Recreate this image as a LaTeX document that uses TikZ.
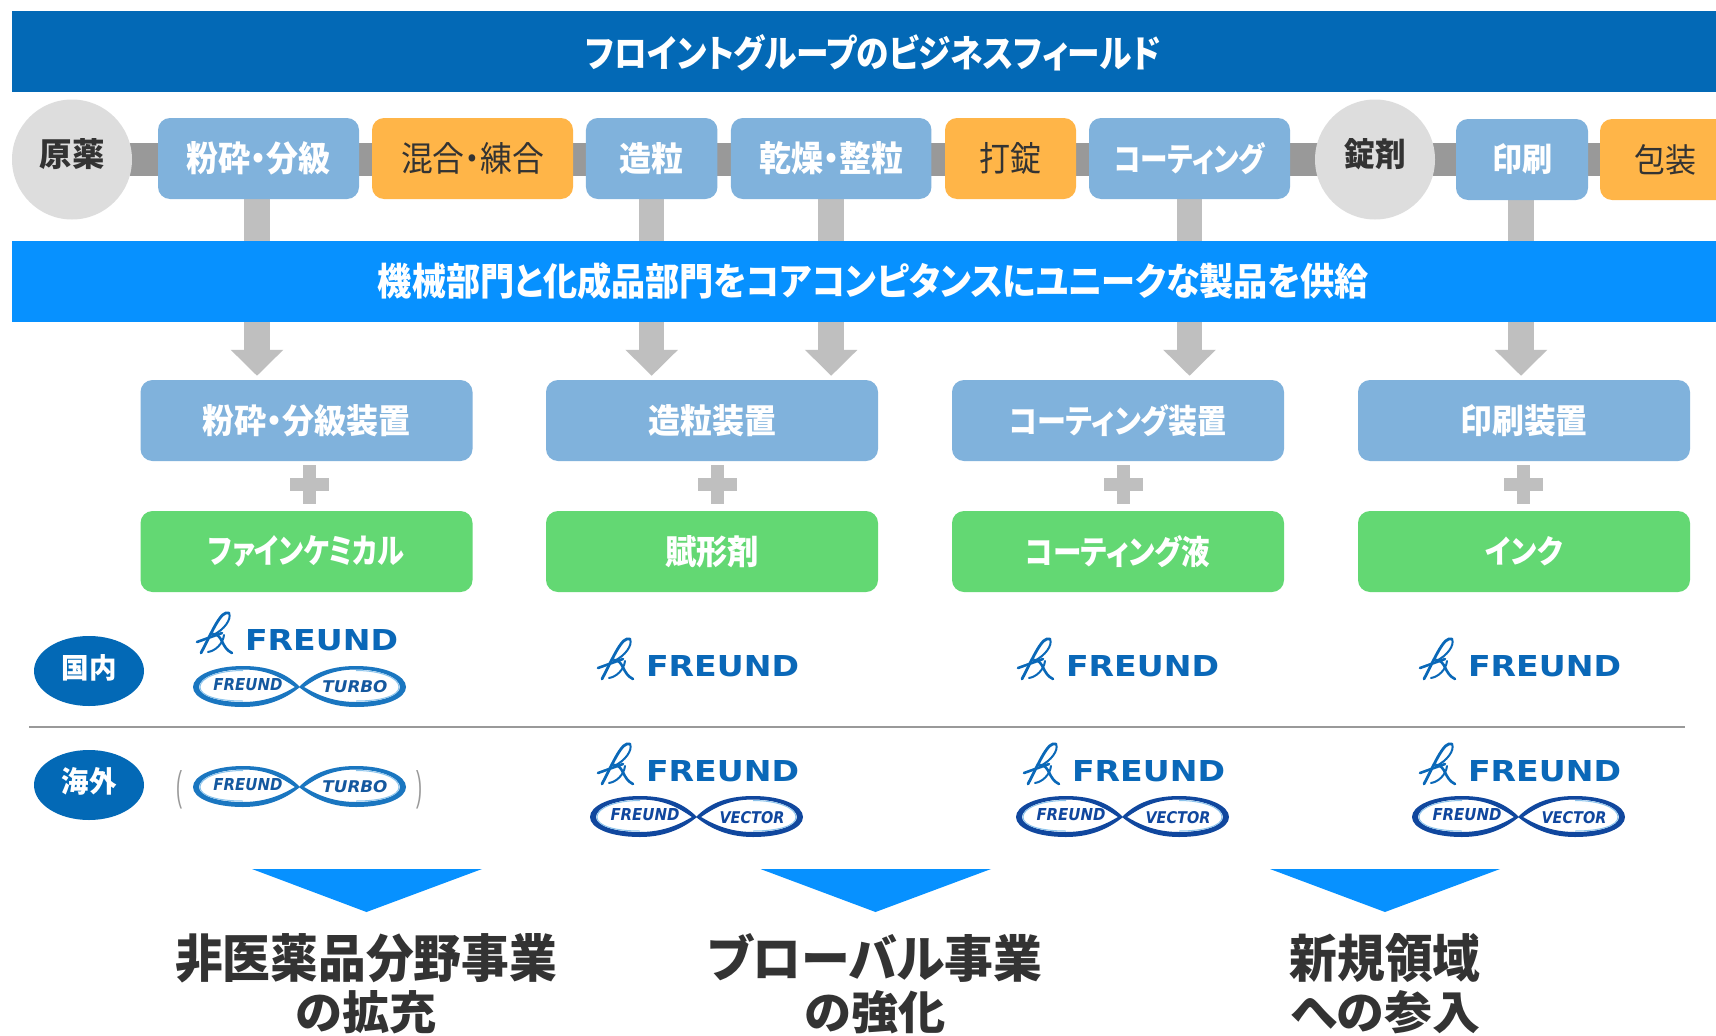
\documentclass[tikz,border=0pt]{standalone}
\usepackage{fontspec}
\usepackage{graphicx}
\setmainfont{Noto Sans CJK JP}[CharacterWidth=AlternateProportional]
\newfontfamily\logofont{DejaVu Sans}
\newfontfamily\parenfont{Liberation Sans}
\usetikzlibrary{arrows.meta,backgrounds,shapes.geometric}
\definecolor{hdblue}{HTML}{0369B6}
\definecolor{brblue}{HTML}{0791FF}
\definecolor{boxblue}{HTML}{80B2DC}
\definecolor{boxorange}{HTML}{FFB548}
\definecolor{boxgreen}{HTML}{63D873}
\definecolor{bandgray}{HTML}{999999}
\definecolor{stemgray}{HTML}{BFBFBF}
\definecolor{circgray}{HTML}{DDDDDD}
\definecolor{txtdark}{HTML}{333333}
\definecolor{logoblue}{HTML}{0A68B8}
\definecolor{turboblue}{HTML}{1A76C0}
\definecolor{turbotxt}{HTML}{14589F}
\definecolor{vecblue}{HTML}{10479E}
\definecolor{glow}{HTML}{8CC4EC}
% exact-size text
\newcommand{\fitb}[3]{\resizebox{#1pt}{#2pt}{\bfseries #3}}
\newcommand{\fitr}[3]{\resizebox{#1pt}{#2pt}{#3}}
\tikzset{
  band/.style={fill=#1,inner sep=0pt,text=white},
  stepbox/.style={fill=#1,rounded corners=12pt,inner sep=0pt},
  roundstep/.style={circle,fill=circgray,minimum size=120pt,inner sep=0pt,text=txtdark},
  tag/.style={ellipse,fill=hdblue,minimum width=110pt,minimum height=70pt,inner sep=0pt,text=white},
  txt/.style={inner sep=0pt,outer sep=0pt},
  flowband/.style={line width=33pt,draw=bandgray},
  stem/.style={line width=25.5pt,draw=stemgray},
  downarrow/.style={line width=25.5pt,draw=stemgray,-{Triangle[length=26pt,width=51pt]},shorten >=4pt},
  plusbar/.style={fill=stemgray},
  outcome/.style={fill=brblue},
}
% FREUND logo: #1 name, #2 x, #3 y (top-left of the mark)
\newcommand{\freundlogo}[3]{%
  \begin{scope}[shift={(#2,#3)},draw=logoblue,line cap=round]
    \draw[line width=2.8pt] (33,1) .. controls (25,-2) and (17,18) .. (5,41);
    \draw[line width=2pt] (33,1) .. controls (36,7) and (28,18) .. (17,23);
    \draw[line width=2.6pt] (1,30) -- (26,21);
    \draw[line width=2.6pt] (17,22) .. controls (27,22) and (25,36) .. (36,41);
    \draw[line width=2pt] (28,23) .. controls (27,32) and (19,39) .. (12,40);
    \node[txt,text=logoblue,anchor=west] (#1) at (49,28.5) {\resizebox{153pt}{21pt}{\logofont\bfseries FREUND}};
  \end{scope}}
% infinity logo: #1 name, #2 x, #3 y, #4 colour, #5 text colour, #6 right word, #7 y of right word
\newcommand{\looplogo}[7]{%
  \begin{scope}[shift={(#2,#3)}]
    \foreach \sx/\ox in {1/0,-1/213}{
      \begin{scope}[shift={(\ox,0)},xscale=\sx]
        \fill[#4,even odd rule]
          (107,21) .. controls (96,10) and (80,0) .. (50,0) .. controls (20,0) and (0,10) .. (0,21)
          .. controls (0,32) and (20,41) .. (50,41) .. controls (78,41) and (96,30) .. (107,21) -- cycle
          (102,21) .. controls (90,13) and (76,3.5) .. (50,3.5) .. controls (25,3.5) and (6,12) .. (6,21)
          .. controls (6,30) and (25,36) .. (50,36) .. controls (74,36) and (90,28) .. (102,21) -- cycle;
        \draw[glow,line width=1pt] (50,4.5) .. controls (25,4.5) and (7,12) .. (7,21) .. controls (7,30) and (25,35) .. (50,35);
      \end{scope}
    }
    \node[txt,text=#5] (#1l) at (55,19) {\resizebox{69pt}{12pt}{\logofont\bfseries\itshape FREUND}};
    \node[txt,text=#5] (#1r) at (162,#7) {\resizebox{65pt}{12pt}{\logofont\bfseries\itshape #6}};
  \end{scope}}
\begin{document}
\begin{tikzpicture}[x=1pt,y=-1pt]
\useasboundingbox (0,0) rectangle (1716,1036);
\clip (0,0) rectangle (1716,1036);
% bars
\node[band=hdblue,minimum width=1704pt,minimum height=81pt,anchor=north west] (title) at (12,11) {};
\node[txt,text=white] (titletxt) at (873,53) {\fitb{575}{33}{フロイントグループのビジネスフィールド}};
\node[band=brblue,minimum width=1704pt,minimum height=81pt,anchor=north west] (core) at (12,241) {};
\node[txt,text=white] (coretxt) at (873.5,281.5) {\fitb{991}{33}{機械部門と化成品部門をコアコンピタンスにユニークな製品を供給}};
% process row
\node[roundstep] (raw) at (72,159.5) {};
\node[txt,text=txtdark] at (72,154.5) {\fitb{65}{28}{原薬}};
\node[stepbox=boxblue,minimum width=201pt,minimum height=81pt,text=white] (mill) at (258.5,158.5) {\fitb{144}{30}{粉砕・分級}};
\node[stepbox=boxorange,minimum width=201pt,minimum height=81pt,text=txtdark] (mix) at (472.5,158.5) {\fitr{143}{29}{混合・練合}};
\node[stepbox=boxblue,minimum width=131.5pt,minimum height=81pt,text=white] (gran) at (651.7,158.5) {\fitb{64}{29}{造粒}};
\node[stepbox=boxblue,minimum width=200.5pt,minimum height=81pt,text=white] (dry) at (831.2,158.5) {\fitb{144}{30}{乾燥・整粒}};
\node[stepbox=boxorange,minimum width=131pt,minimum height=81pt,text=txtdark] (press) at (1010.5,158.5) {\fitr{62}{29}{打錠}};
\node[stepbox=boxblue,minimum width=201pt,minimum height=81pt,text=white] (coat) at (1189.5,158.5) {\fitb{151}{29}{コーティング}};
\node[roundstep] (tablet) at (1375,159.5) {};
\node[txt,text=txtdark] at (1375,154) {\fitb{61}{28}{錠剤}};
\node[stepbox=boxblue,minimum width=132pt,minimum height=81pt,text=white] (print) at (1522,159.5) {\fitb{60}{28}{印刷}};
\node[stepbox=boxorange,minimum width=130pt,minimum height=81pt,text=txtdark] (pack) at (1665,159.5) {\fitr{62}{28}{包装}};
% equipment
\node[stepbox=boxblue,minimum width=332pt,minimum height=81pt,text=white] (eqa) at (306.5,420.5) {\fitb{208}{29}{粉砕・分級装置}};
\node[stepbox=boxblue,minimum width=332pt,minimum height=81pt,text=white] (eqb) at (712,420.5) {\fitb{128}{29}{造粒装置}};
\node[stepbox=boxblue,minimum width=332pt,minimum height=81pt,text=white] (eqc) at (1118,420.5) {\fitb{217}{29}{コーティング装置}};
\node[stepbox=boxblue,minimum width=332pt,minimum height=81pt,text=white] (eqd) at (1524,420.5) {\fitb{127}{29}{印刷装置}};
% materials
\node[stepbox=boxgreen,minimum width=332pt,minimum height=81pt,text=white] (maa) at (306.5,551.5) {\fitb{196}{28}{ファインケミカル}};
\node[stepbox=boxgreen,minimum width=332pt,minimum height=81pt,text=white] (mab) at (712,551.5) {\fitb{94}{29}{賦形剤}};
\node[stepbox=boxgreen,minimum width=332pt,minimum height=81pt,text=white] (mac) at (1118,551.5) {\fitb{185}{29}{コーティング液}};
\node[stepbox=boxgreen,minimum width=332pt,minimum height=81pt,text=white] (mad) at (1524,551.5) {\fitb{77}{27}{インク}};
% plus signs
\foreach \px in {309,717.5,1123,1523}{
  \fill[plusbar] (\px-19.5,478) rectangle (\px+19.5,490.5);
  \fill[plusbar] (\px-6.5,465) rectangle (\px+6.5,504);
}
% connectors
\begin{scope}[on background layer]
  \fill[white] (0,0) rectangle (1716,1036);
  \draw[flowband] (raw.center) -- (pack.center);
  \draw[stem] ([xshift=-1.5pt]mill.south) -- ([xshift=-1.5pt]mill.south |- core.north);
  \foreach \b in {gran,dry,coat}{
    \draw[stem] (\b.south) -- (\b.south |- core.north);
  }
  \draw[stem] ([xshift=-1pt]print.south) -- ([xshift=-1pt]print.south |- core.north);
\end{scope}
\draw[downarrow] ([xshift=-1.5pt]mill.south |- core.south) -- ([xshift=-1.5pt]mill.south |- eqa.north);
\draw[downarrow] (gran.south |- core.south) -- (gran.south |- eqb.north);
\draw[downarrow] (dry.south |- core.south) -- (dry.south |- eqb.north);
\draw[downarrow] (coat.south |- core.south) -- (coat.south |- eqc.north);
\draw[downarrow] ([xshift=-1pt]print.south |- core.south) -- ([xshift=-1pt]print.south |- eqd.north);
% domestic / overseas
\node[tag] (dom) at (89,671) {};
\node[txt,text=white] at (89,667.5) {\fitb{55}{24}{国内}};
\node[tag] (ovs) at (89,785) {};
\node[txt,text=white] at (89,781.7) {\fitb{55}{25}{海外}};
\coordinate (sepa) at (29,727);
\coordinate (sepb) at (1685,727);
\draw[bandgray,line width=1.5pt] (sepa) -- (sepb);
% logos
\freundlogo{fa}{196}{612}
\looplogo{ta}{193}{666}{turboblue}{turbotxt}{TURBO}{21}
\freundlogo{fb}{597}{638}
\freundlogo{fc}{1017}{638}
\freundlogo{fd}{1419}{638}
\looplogo{tb}{193}{766}{turboblue}{turbotxt}{TURBO}{21}
\node[txt,text=bandgray,anchor=center] (pl) at (179.5,789.5) {\resizebox{6pt}{30pt}{\parenfont (}};
\node[txt,text=bandgray,anchor=center] (pr) at (419,789.5) {\resizebox{6pt}{30pt}{\parenfont )}};
\freundlogo{fe}{597}{743}
\looplogo{va}{590}{796}{vecblue}{vecblue}{VECTOR}{22}
\freundlogo{ff}{1023}{743}
\looplogo{vb}{1016}{796}{vecblue}{vecblue}{VECTOR}{22}
\freundlogo{fg}{1419}{743}
\looplogo{vc}{1412}{796}{vecblue}{vecblue}{VECTOR}{22}
% outcomes
\fill[outcome] (252,869) -- (482,869) -- (366.5,912) -- cycle;
\fill[outcome] (760.5,869) -- (991,869) -- (875.5,912) -- cycle;
\fill[outcome] (1270,869) -- (1500,869) -- (1385,912) -- cycle;
\node[txt,text=txtdark] (oa) at (366,958) {\fitb{382}{44}{非医薬品分野事業}};
\node[txt,text=txtdark] (ob) at (366,1012.5) {\fitb{141}{39}{の拡充}};
\node[txt,text=txtdark] (oc) at (875,958) {\fitb{335}{44}{ブローバル事業}};
\node[txt,text=txtdark] (od) at (875.5,1012.5) {\fitb{141}{39}{の強化}};
\node[txt,text=txtdark] (oe) at (1385,958) {\fitb{191}{44}{新規領域}};
\node[txt,text=txtdark] (of) at (1385,1012.5) {\fitb{190}{39}{への参入}};
\end{tikzpicture}
\end{document}
